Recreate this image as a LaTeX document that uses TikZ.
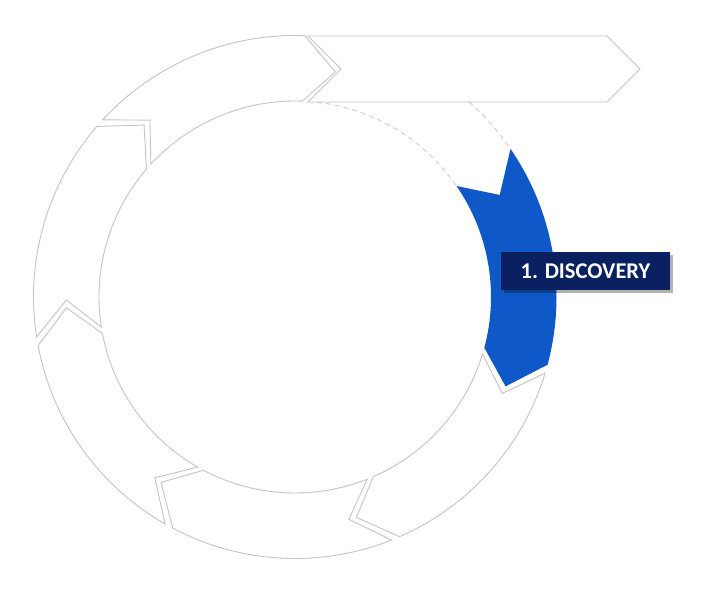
\documentclass[tikz,border=0pt]{standalone}
\usepackage{fontspec}
\newfontfamily\labelfont{Carlito}
\usetikzlibrary{shadows}

\definecolor{ringgrey}{RGB}{196,196,196}
\definecolor{discblue}{RGB}{14,88,200}
\definecolor{labelnavy}{RGB}{10,32,96}

\def\outerR{261.5pt}
\def\innerR{196pt}
\def\midR{228.75pt}
\def\tipdepth{8}

% one arrow piece of the ring: #1 start angle, #2 end angle, #3 style
\newcommand{\ringsegment}[3]{%
  \path[#3] (#1:\outerR) arc[start angle=#1, end angle=#2, radius=\outerR]
    -- ({#2-\tipdepth}:\midR) -- (#2:\innerR)
    arc[start angle=#2, end angle=#1, radius=\innerR]
    -- ({#1-\tipdepth}:\midR) -- cycle;}

\begin{document}
\begin{tikzpicture}[
        x=1pt, y=1pt,
        segline/.style={draw=ringgrey, line width=0.9pt, fill=white},
        segblue/.style={fill=discblue},
        gapdash/.style={draw=ringgrey!85, line width=0.9pt, dash pattern=on 5pt off 4pt},
        discbox/.style={rectangle, fill=labelnavy, text=white, minimum width=169pt,
            minimum height=38pt, inner sep=0pt,
            font=\labelfont\bfseries\fontsize{22.5}{26}\selectfont,
            drop shadow={shadow xshift=2.5pt, shadow yshift=-2.5pt, fill=black, opacity=0.3}}
    ]
        \useasboundingbox (-295,-303) rectangle (416,297);

        % open slot between the top arrow and the first step
        \draw[gapdash] (86.2:\innerR) arc[start angle=86.2, end angle=34.5, radius=\innerR];
        \draw[gapdash] (48.2:\outerR) arc[start angle=48.2, end angle=34.5, radius=\outerR];

        \foreach \k in {1,...,5}{
            \pgfmathsetmacro\segstart{34.5-51.43*\k}
            \pgfmathsetmacro\segend{\segstart-49.5}
            \ringsegment{\segstart}{\segend}{segline}
        }
        \ringsegment{34.5}{-15}{segblue}

        % straight arrow leaving the ring
        \path[segline] (13,261) -- (312,261) -- (345,228) -- (312,195)
            -- (13,195) -- (46,228) -- cycle;

        \node[discbox] (discovery) at (290.5,26) {1. DISCOVERY};
    \end{tikzpicture}
\end{document}
